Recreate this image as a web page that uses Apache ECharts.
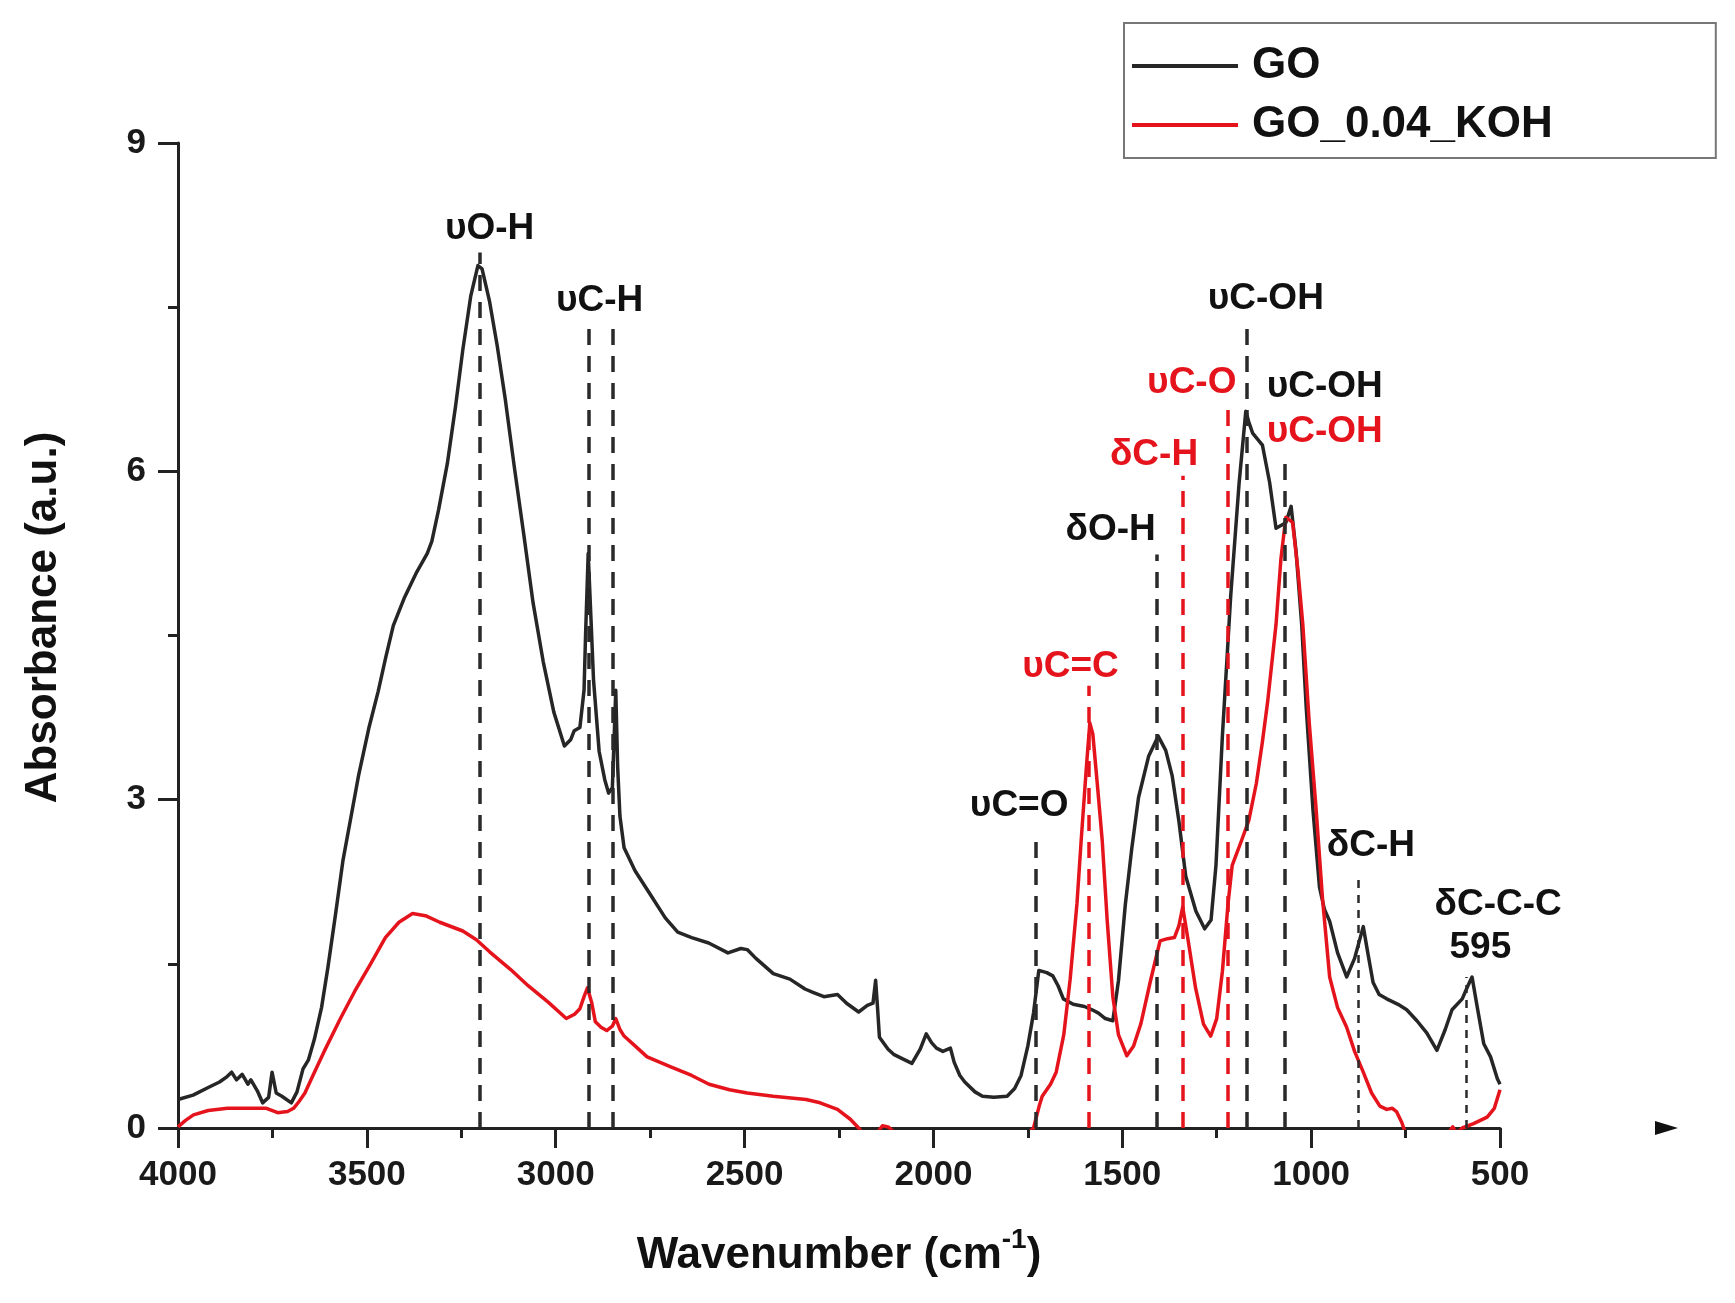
<!DOCTYPE html>
<html>
<head>
<meta charset="utf-8">
<script src="https://cdn.jsdelivr.net/npm/echarts@6/dist/echarts.min.js"></script>
<style>
  html, body { margin: 0; padding: 0; background: #fff; }
  #c_chart { width: 1735px; height: 1303px; }
</style>
</head>
<body>
<div id="c_chart"></div>
<script>
// GO spectrum
const goWn = [4000, 3960, 3920, 3890, 3870, 3858, 3845, 3830, 3815, 3807, 3790, 3776, 3760, 3751, 3740, 3725, 3700, 3685, 3669, 3655,
  3639, 3620, 3603, 3583, 3563, 3540, 3522, 3495, 3470, 3450, 3430, 3400, 3368, 3340, 3328, 3310, 3287, 3265, 3246, 3225,
  3206, 3195, 3175, 3155, 3134, 3110, 3084, 3060, 3033, 3005, 2977, 2960, 2951, 2936, 2925, 2921, 2914, 2906, 2900, 2885,
  2870, 2860, 2850, 2845, 2841, 2836, 2830, 2819, 2790, 2747, 2710, 2677, 2640, 2595, 2544, 2510, 2493, 2470, 2424, 2380,
  2340, 2319, 2290, 2254, 2230, 2198, 2175, 2160, 2153, 2148, 2143, 2120, 2104, 2080, 2057, 2035, 2019, 2005, 1992, 1975,
  1955, 1945, 1930, 1917, 1890, 1870, 1840, 1805, 1785, 1768, 1750, 1735, 1721, 1700, 1684, 1670, 1656, 1630, 1600, 1580,
  1563, 1545, 1525, 1510, 1492, 1475, 1457, 1430, 1405, 1385, 1368, 1350, 1332, 1305, 1282, 1265, 1252, 1235, 1213, 1191,
  1173, 1165, 1155, 1129, 1110, 1093, 1067, 1053, 1040, 1025, 1013, 995, 978, 965, 951, 930, 906, 885, 862, 850,
  836, 820, 800, 770, 747, 720, 694, 667, 645, 627, 600, 585, 574, 560, 543, 525, 507, 500];
const goAbs = [0.26, 0.30, 0.37, 0.42, 0.47, 0.51, 0.44, 0.49, 0.40, 0.44, 0.34, 0.23, 0.28, 0.51, 0.32, 0.29, 0.23, 0.33, 0.54, 0.62,
  0.81, 1.10, 1.47, 1.95, 2.45, 2.88, 3.22, 3.65, 3.99, 4.30, 4.59, 4.85, 5.08, 5.25, 5.36, 5.65, 6.07, 6.60, 7.11, 7.60,
  7.88, 7.85, 7.55, 7.15, 6.67, 6.05, 5.41, 4.80, 4.26, 3.80, 3.49, 3.55, 3.63, 3.66, 4.00, 4.50, 5.25, 4.60, 4.10, 3.44,
  3.18, 3.06, 3.11, 3.60, 4.00, 3.30, 2.85, 2.56, 2.35, 2.12, 1.92, 1.79, 1.74, 1.69, 1.60, 1.64, 1.63, 1.55, 1.41, 1.36,
  1.27, 1.24, 1.20, 1.22, 1.14, 1.06, 1.12, 1.14, 1.35, 1.10, 0.83, 0.72, 0.67, 0.63, 0.59, 0.72, 0.86, 0.78, 0.73, 0.70,
  0.73, 0.60, 0.48, 0.42, 0.33, 0.29, 0.28, 0.29, 0.36, 0.48, 0.75, 1.05, 1.44, 1.42, 1.39, 1.30, 1.18, 1.13, 1.11, 1.08,
  1.05, 1.00, 0.98, 1.35, 2.04, 2.55, 3.02, 3.40, 3.58, 3.45, 3.22, 2.80, 2.30, 1.98, 1.82, 1.90, 2.40, 3.58, 4.86, 5.88,
  6.55, 6.45, 6.35, 6.24, 5.90, 5.48, 5.53, 5.68, 5.27, 4.60, 3.84, 2.90, 2.20, 2.00, 1.89, 1.60, 1.38, 1.55, 1.84, 1.60,
  1.33, 1.22, 1.18, 1.13, 1.08, 0.98, 0.87, 0.71, 0.90, 1.08, 1.18, 1.30, 1.38, 1.10, 0.77, 0.65, 0.45, 0.40];

// GO_0.04_KOH spectrum
const kohWn = [4000, 3980, 3959, 3920, 3869, 3800, 3766, 3736, 3710, 3694, 3680, 3664, 3640, 3613, 3570, 3532, 3490, 3451, 3415, 3379,
  3345, 3307, 3246, 3210, 3175, 3120, 3073, 3020, 2972, 2950, 2936, 2925, 2916, 2905, 2895, 2880, 2865, 2850, 2841, 2830,
  2819, 2790, 2758, 2697, 2640, 2594, 2540, 2493, 2424, 2337, 2300, 2254, 2220, 2198, 2180, 2150, 2135, 2120, 2100, 2060,
  1950, 1800, 1750, 1735, 1720, 1712, 1690, 1675, 1655, 1638, 1620, 1609, 1595, 1586, 1578, 1565, 1553, 1540, 1525, 1510,
  1488, 1470, 1451, 1425, 1400, 1380, 1362, 1350, 1340, 1325, 1306, 1285, 1266, 1250, 1235, 1220, 1209, 1185, 1165, 1145,
  1129, 1115, 1093, 1080, 1067, 1055, 1049, 1035, 1022, 1005, 987, 970, 951, 930, 906, 885, 862, 840, 818, 800,
  785, 774, 760, 750, 734, 650, 625, 615, 600, 570, 534, 515, 500];
const kohAbs = [0.01, 0.07, 0.12, 0.16, 0.18, 0.18, 0.18, 0.14, 0.15, 0.18, 0.24, 0.32, 0.50, 0.70, 1.00, 1.25, 1.50, 1.74, 1.88, 1.96,
  1.94, 1.88, 1.80, 1.72, 1.61, 1.45, 1.30, 1.15, 1.00, 1.04, 1.09, 1.20, 1.28, 1.15, 0.97, 0.92, 0.89, 0.93, 1.00, 0.90,
  0.84, 0.75, 0.65, 0.56, 0.48, 0.40, 0.35, 0.32, 0.29, 0.26, 0.23, 0.17, 0.08, 0.00, -0.08, -0.05, 0.02, 0.01, -0.05, -0.20,
  -0.30, -0.20, -0.05, 0.00, 0.20, 0.29, 0.40, 0.51, 0.85, 1.36, 2.05, 2.62, 3.30, 3.70, 3.60, 3.10, 2.62, 1.90, 1.20, 0.85,
  0.66, 0.75, 0.95, 1.35, 1.71, 1.73, 1.74, 1.85, 2.02, 1.70, 1.28, 0.95, 0.84, 1.00, 1.43, 2.05, 2.40, 2.62, 2.81, 3.15,
  3.53, 3.90, 4.60, 5.20, 5.58, 5.55, 5.53, 5.10, 4.60, 3.70, 2.92, 2.10, 1.38, 1.10, 0.92, 0.70, 0.51, 0.32, 0.20, 0.17,
  0.18, 0.15, 0.05, -0.05, -0.10, -0.10, 0.01, -0.05, 0.00, 0.04, 0.10, 0.18, 0.35];

// dashed peak markers
const peakWn = [3200, 2912, 2850, 1730, 1590, 1410, 1340, 1220, 1170, 1070, 875, 590];
const peakTop = [8.00, 7.38, 7.38, 2.68, 4.04, 5.24, 5.96, 6.65, 7.35, 6.07, 2.30, 1.38];
const peakRed = [false, false, false, false, true, false, true, true, false, false, false, false];
const peakThin = [false, false, false, false, false, false, false, false, false, false, true, true];

// peak labels
const annText = ['υO-H', 'υC-H', 'υC=O', 'υC=C', 'δO-H', 'δC-H', 'υC-O', 'υC-OH', 'υC-OH', 'υC-OH', 'δC-H', 'δC-C-C', '595'];
const annWn = [3175, 2884, 1773, 1637, 1531, 1416, 1316, 1120, 964, 964, 842, 505, 552];
const annAbs = [8.22, 7.56, 2.94, 4.21, 5.47, 6.15, 6.81, 7.58, 6.77, 6.36, 2.58, 2.04, 1.65];
const annRed = [false, false, false, true, false, true, true, false, false, true, false, false, false];

const xTicks = [4000, 3500, 3000, 2500, 2000, 1500, 1000, 500];
const yTicks = [0, 3, 6, 9];

const BLACK = '#262626';
const RED = '#e5141c';
const FONT = '"Liberation Sans", Arial, sans-serif';

var dm = document.getElementById('c_chart');
var ch = echarts.init(dm);

var goData = goWn.map((w, i) => [w, goAbs[i]]);
var kohData = kohWn.map((w, i) => [w, kohAbs[i]]);

var markers = peakWn.map((w, i) => [
  { coord: [w, 0] },
  {
    coord: [w, peakTop[i]],
    lineStyle: {
      color: peakRed[i] ? RED : '#2a2a2a',
      width: peakThin[i] ? 2.5 : 3.5,
      type: peakThin[i] ? [8, 7] : [16, 11]
    }
  }
]);

var labels = annText.map((t, i) => ({
  name: t,
  value: [annWn[i], annAbs[i]],
  label: { color: annRed[i] ? RED : '#111' }
}));

var axisStyle = { color: '#222', width: 3 };

var option = {
  animation: false,
  backgroundColor: '#fff',
  textStyle: { fontFamily: FONT },
  legend: {
    data: ['GO', 'GO_0.04_KOH'],
    orient: 'vertical',
    left: 1124,
    top: 23,
    padding: [19, 163, 9, 8],
    icon: 'rect',
    itemWidth: 106,
    itemHeight: 4,
    itemGap: 11,
    borderColor: '#777',
    borderWidth: 2,
    textStyle: {
      fontFamily: FONT, fontSize: 44, fontWeight: 'bold', color: '#111',
      lineHeight: 48, padding: [0, 0, 0, 9]
    }
  },
  grid: { left: 178, right: 235, top: 143, bottom: 175 },
  xAxis: {
    type: 'value',
    inverse: true,
    min: xTicks[xTicks.length - 1],
    max: xTicks[0],
    interval: 500,
    name: '{t|Wavenumber (cm}{sup|-1}{t|)}',
    nameLocation: 'middle',
    nameGap: 98,
    nameTextStyle: {
      rich: {
        t: { fontFamily: FONT, fontSize: 44, fontWeight: 'bold', color: '#111', lineHeight: 52, verticalAlign: 'bottom' },
        sup: { fontFamily: FONT, fontSize: 28, fontWeight: 'bold', color: '#111', lineHeight: 52, verticalAlign: 'top' }
      }
    },
    axisLine: { show: true, onZero: false, lineStyle: axisStyle },
    axisTick: { show: true, inside: false, length: 20, lineStyle: axisStyle },
    minorTick: { show: true, splitNumber: 2, length: 10, lineStyle: axisStyle },
    splitLine: { show: false },
    axisLabel: {
      fontFamily: FONT, fontSize: 35, fontWeight: 'bold', color: '#1a1a1a', margin: 30,
      formatter: (v) => String(v)
    }
  },
  yAxis: {
    type: 'value',
    min: yTicks[0],
    max: yTicks[yTicks.length - 1],
    interval: 3,
    name: 'Absorbance (a.u.)',
    nameLocation: 'middle',
    nameRotate: 90,
    nameGap: 112,
    nameTextStyle: { fontFamily: FONT, fontSize: 44, fontWeight: 'bold', color: '#111', padding: [0, 0, 0, 36] },
    axisLine: { show: true, lineStyle: axisStyle },
    axisTick: { show: true, inside: false, length: 20, lineStyle: axisStyle },
    minorTick: { show: true, splitNumber: 2, length: 10, lineStyle: axisStyle },
    splitLine: { show: false },
    axisLabel: {
      fontFamily: FONT, fontSize: 35, fontWeight: 'bold', color: '#1a1a1a', margin: 32,
      formatter: (v) => String(v)
    }
  },
  series: [
    {
      name: 'GO',
      type: 'line',
      data: goData,
      symbol: 'none',
      lineStyle: { color: BLACK, width: 3.5, join: 'round' },
      itemStyle: { color: BLACK },
      z: 3,
      markLine: {
        silent: true,
        symbol: ['none', 'none'],
        label: { show: false },
        data: markers
      }
    },
    {
      name: 'GO_0.04_KOH',
      type: 'line',
      data: kohData,
      symbol: 'none',
      lineStyle: { color: RED, width: 3.5, join: 'round' },
      itemStyle: { color: RED },
      z: 4
    },
    {
      name: 'labels',
      type: 'scatter',
      data: labels,
      symbolSize: 0,
      silent: true,
      z: 5,
      itemStyle: { opacity: 1 },
      label: {
        show: true,
        position: 'inside',
        formatter: '{b}',
        fontFamily: FONT,
        fontSize: 37,
        fontWeight: 'bold',
        opacity: 1
      }
    }
  ],
  graphic: [
    {
      type: 'polygon',
      shape: { points: [[1655, 1121], [1678, 1128], [1655, 1135]] },
      style: { fill: '#111' }
    }
  ]
};

ch.setOption(option);
window.onresize = function () {
  ch.resize();
};
</script>
</body>
</html>
